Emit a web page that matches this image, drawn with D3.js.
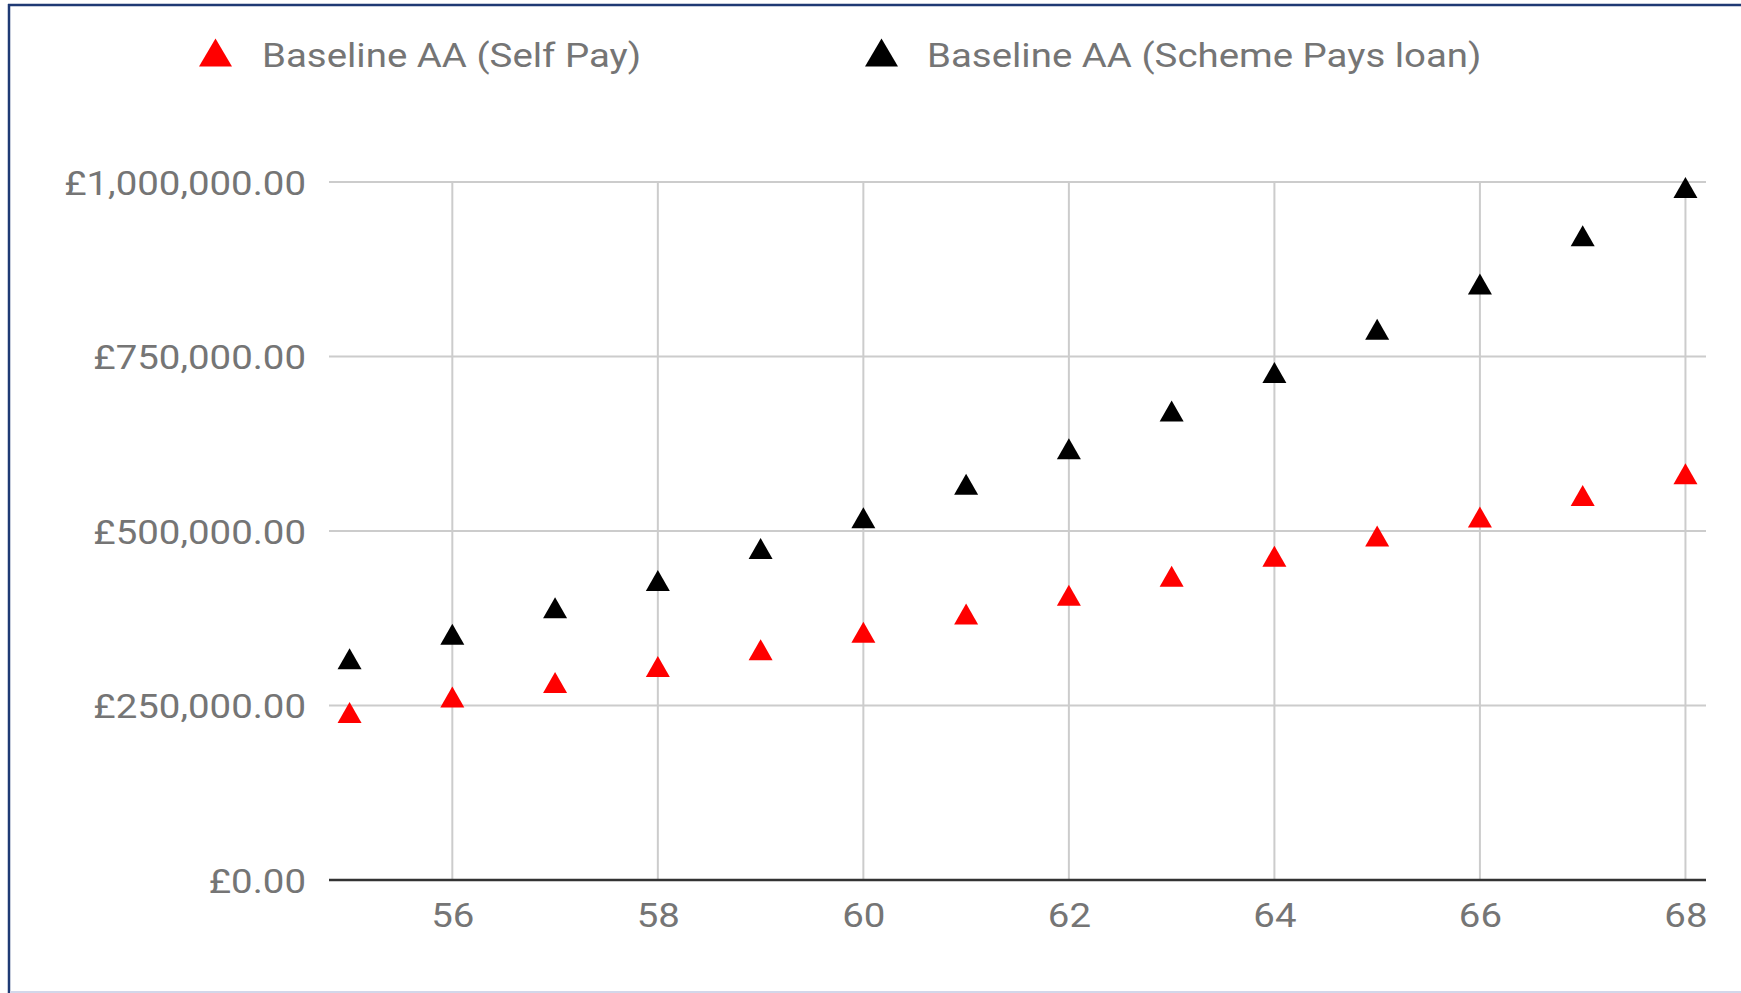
<!DOCTYPE html>
<html>
<head>
<meta charset="utf-8">
<script src="https://cdn.jsdelivr.net/npm/d3@7"></script>
<style>
  html, body { margin: 0; padding: 0; background: #ffffff; }
  svg { display: block; }
  text { font-family: Roboto, "Noto Sans", sans-serif; fill: #757575; }
</style>
</head>
<body>
<svg id="chart" width="1741" height="993"></svg>
<script>
// Age at which the annual allowance charge is assessed
const ages = [55, 56, 57, 58, 59, 60, 61, 62, 63, 64, 65, 66, 67, 68];
// Pension pot value (GBP) for each approach
const selfPay = [240000, 262000, 283000, 306000, 330000, 355000, 381000, 408000, 435000, 464000, 493000, 520000, 551000, 582000];
const schemePays = [317000, 352000, 390000, 429000, 475000, 519000, 567000, 618000, 672000, 727000, 789000, 854000, 923000, 992000];
const seriesNames = ["Baseline AA (Self Pay)", "Baseline AA (Scheme Pays loan)"];
const seriesColors = ["#ff0000", "#000000"];
const xTicks = [56, 58, 60, 62, 64, 66, 68];
const yTicks = [0, 250000, 500000, 750000, 1000000];

const svg = d3.select("#chart");
const W = 1741, H = 993;
const plot = { left: 329, right: 1706, top: 182, bottom: 880 };
const FONT = 34, STRETCH = 1.13; // labels are set slightly wide

const x = d3.scaleLinear().domain([54.8, 68.2]).range([plot.left, plot.right]);
const y = d3.scaleLinear().domain([0, 1000000]).range([plot.bottom, plot.top]);

const money = v => "£" + d3.format(",.2f")(v);

// Frame around the chart
svg.append("rect").attr("x", 0).attr("y", 0).attr("width", W).attr("height", H).attr("fill", "#fff");
svg.append("line").attr("x1", 8).attr("x2", W).attr("y1", 5).attr("y2", 5)
  .attr("stroke", "#1f3a74").attr("stroke-width", 2.5);
svg.append("line").attr("x1", 9).attr("x2", 9).attr("y1", 4).attr("y2", H)
  .attr("stroke", "#1f3a74").attr("stroke-width", 2.5);
svg.append("line").attr("x1", 10).attr("x2", W).attr("y1", 992).attr("y2", 992)
  .attr("stroke", "#d3d7ea").attr("stroke-width", 2);

// Gridlines
const grid = svg.append("g");
grid.selectAll(".hg").data(yTicks.filter(d => d > 0)).join("line")
  .attr("x1", plot.left).attr("x2", plot.right)
  .attr("y1", d => y(d)).attr("y2", d => y(d))
  .attr("stroke", "#cccccc").attr("stroke-width", 2);
grid.selectAll(".vg").data(xTicks).join("line")
  .attr("x1", d => x(d)).attr("x2", d => x(d))
  .attr("y1", plot.top).attr("y2", plot.bottom)
  .attr("stroke", "#cccccc").attr("stroke-width", 2);

// Y axis labels
const yAxis = svg.append("g").attr("transform", `translate(${plot.left},0)`)
  .call(d3.axisLeft(y).tickValues(yTicks).tickFormat(money).tickSize(0).tickPadding(0));
yAxis.select(".domain").remove();
yAxis.selectAll("text").attr("font-size", FONT).attr("fill", "#757575")
  .attr("font-family", "Roboto").attr("dy", "0.36em")
  .attr("x", -23 / STRETCH)
  .attr("transform", `scale(${STRETCH},1)`);

// X axis labels
const xAxis = svg.append("g").attr("transform", `translate(0,${plot.bottom})`)
  .call(d3.axisBottom(x).tickValues(xTicks).tickFormat(d3.format("d")).tickSize(0).tickPadding(23));
xAxis.select(".domain").remove();
xAxis.selectAll("text").attr("font-size", FONT).attr("fill", "#757575")
  .attr("font-family", "Roboto").attr("dy", "0.71em")
  .attr("transform", `scale(${STRETCH},1)`);

// Baseline
svg.append("line").attr("x1", plot.left).attr("x2", plot.right)
  .attr("y1", y(0)).attr("y2", y(0))
  .attr("stroke", "#333333").attr("stroke-width", 2.5);

// Upward triangle centred on its bounding box
function tri(cx, cy, w, h) {
  return `M${cx},${cy - h / 2}L${cx + w / 2},${cy + h / 2}L${cx - w / 2},${cy + h / 2}Z`;
}

const series = [selfPay, schemePays];
series.forEach((vals, i) => {
  svg.append("g").selectAll("path").data(ages.map((a, k) => [a, vals[k]])).join("path")
    .attr("d", d => tri(x(d[0]), y(d[1]), 24, 21))
    .attr("fill", seriesColors[i]);
});

// Legend
const legendPos = [{ mx: 215.5, tx: 262 }, { mx: 881.5, tx: 927 }];
seriesNames.forEach((name, i) => {
  const g = svg.append("g");
  g.append("path").attr("d", tri(legendPos[i].mx, 52.5, 33, 28)).attr("fill", seriesColors[i]);
  g.append("text").attr("transform", `translate(${legendPos[i].tx},66.5) scale(${STRETCH},1)`)
    .attr("font-size", FONT).attr("fill", "#757575").text(name);
});
</script>
</body>
</html>
